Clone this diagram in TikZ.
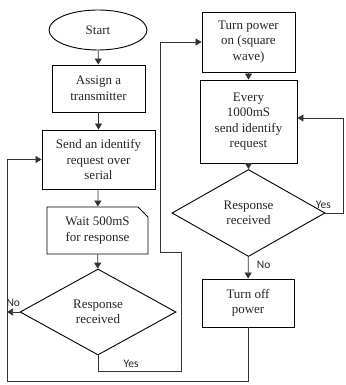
\documentclass[tikz,border=0pt]{standalone}
\usepackage{fontspec}
\setmainfont{Liberation Serif}
\newfontfamily\tagfont{Carlito}
\usetikzlibrary{shapes.geometric,shapes.misc,arrows.meta}
\tikzset{
  procbox/.style={draw, line width=0.9pt, align=center, inner sep=1pt,
    font=\fontsize{13}{15.5}\selectfont, text=black!85},
  decbox/.style={draw, diamond, line width=0.9pt, align=center, inner sep=0pt,
    font=\fontsize{13}{15.5}\selectfont, text=black!85},
  flow/.style={line width=0.75pt, draw=black!80, -{Triangle[length=6pt,width=7pt]}},
  tag/.style={font=\tagfont\fontsize{11.5}{13}\selectfont, text=black!85}
}
\begin{document}
\begin{tikzpicture}[x=1pt,y=-1pt]
    \useasboundingbox (0,0) rectangle (345,385);
    % Left column
    \node[procbox, ellipse, minimum width=98pt, minimum height=40pt] (start) at (98,30) {Start};
    \node[procbox, minimum width=93pt, minimum height=47pt] (assign) at (98.5,88.5) {Assign a\\transmitter};
    \node[procbox, minimum width=113pt, minimum height=59pt] (send) at (98.5,159.5) {Send an identify\\request over\\serial};
    \node[procbox, chamfered rectangle, chamfered rectangle corners=north east,
          chamfered rectangle xsep=5pt, chamfered rectangle ysep=5pt,
          minimum width=101pt, minimum height=47pt] (wait) at (97.5,230.5) {Wait 500mS\\for response};
    \node[decbox, minimum width=156pt, minimum height=86pt] (resp1) at (98,312) {Response\\received};
    % Right column
    \node[procbox, minimum width=93pt, minimum height=60pt] (poweron) at (248.5,42) {Turn power\\on (square\\wave)};
    \node[procbox, minimum width=97pt, minimum height=83pt] (every) at (248.5,121.5) {Every\\1000mS\\send identify\\request};
    \node[decbox, minimum width=153pt, minimum height=87pt] (resp2) at (248.5,213) {Response\\received};
    \node[procbox, minimum width=92pt, minimum height=48pt] (poweroff) at (248,303) {Turn off\\power};
    % Bends
    \coordinate (lowL) at (7,381);
    \coordinate (yesA) at (181,371);
    \coordinate (yesB) at (160,252);
    \coordinate (yesC) at (343,118);
    % Straight arrows
    \draw[flow] (start) -- (assign);
    \draw[flow] (assign) -- (send);
    \draw[flow] (send) -- (wait);
    \draw[flow] (wait) -- (resp1);
    \draw[flow] (poweron) -- (every);
    \draw[flow] (every) -- (resp2);
    \draw[flow] (resp2) -- node[tag, right=5pt, pos=0.35] {No} (poweroff);
    % Loops
    \draw[flow] (resp1.west) -- (resp1.west -| lowL) node[tag, above=2pt, pos=0.5] {No};
    \draw[flow] (poweroff.south) |- (lowL) |- (send.west);
    \draw[flow] (resp1.south) |- node[tag, above, pos=0.7] {Yes} (yesA) |- (yesB) |- (poweron.west);
    \draw[flow] (resp2.east) -| node[tag, above, pos=0, xshift=-2pt, yshift=1pt] {Yes} (yesC) -- (yesC -| every.east);
\end{tikzpicture}
\end{document}
